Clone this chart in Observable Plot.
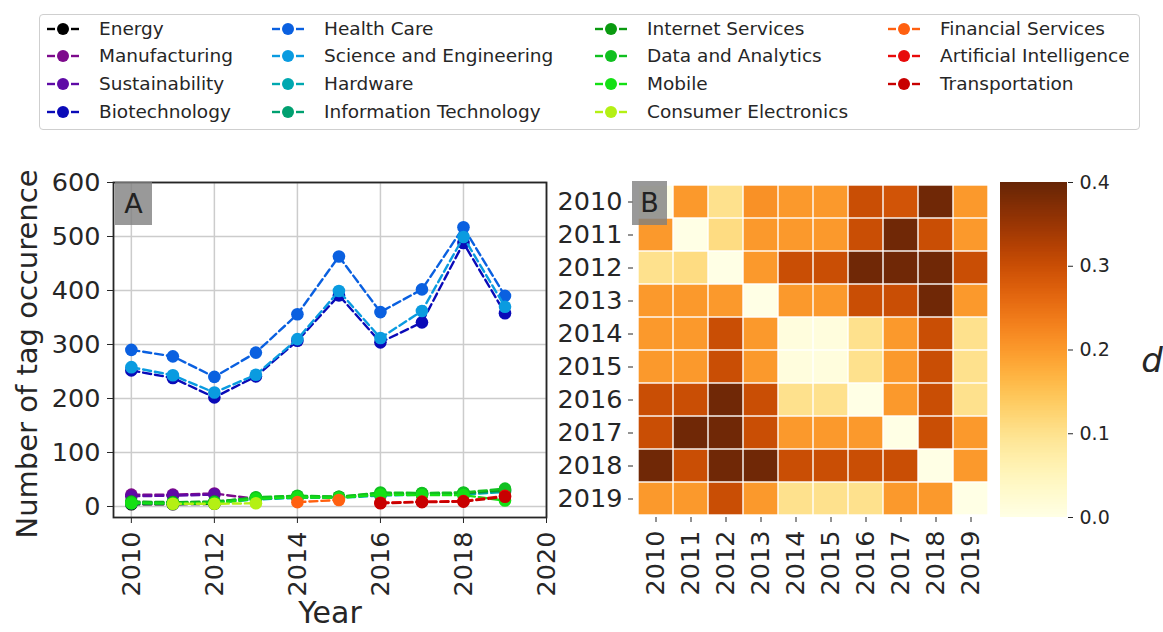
<!DOCTYPE html>
<html>
<head>
<meta charset="utf-8">
<script src="https://cdn.jsdelivr.net/npm/d3@7"></script>
<script src="https://cdn.jsdelivr.net/npm/@observablehq/plot@0.6"></script>
<style>
  body { margin: 0; background: #fff; font-family: "DejaVu Sans", sans-serif; color: #262626; }
  #fig { position: relative; width: 1163px; height: 632px; overflow: hidden; background: #fff; }
  .legend { position: absolute; left: 39px; top: 14px; width: 1101px; height: 116px; border: 1px solid #cfcfcf; border-radius: 4px; box-sizing: border-box; }
  .lg-item { position: absolute; font-size: 18.5px; line-height: 22px; white-space: nowrap; color: #262626; }
  .lg-item svg { position: absolute; top: 4px; }
  .panel-tag { position: absolute; background: rgba(128,128,128,0.8); color: #222; font-size: 27px; text-align: center; }
</style>
</head>
<body>
<div id="fig"></div>
<script>
// ---------------- Data ----------------
const years = [2010, 2011, 2012, 2013, 2014, 2015, 2016, 2017, 2018, 2019];

const tagNames = [
  "Energy", "Manufacturing", "Sustainability", "Biotechnology",
  "Health Care", "Science and Engineering", "Hardware", "Information Technology",
  "Internet Services", "Data and Analytics", "Mobile", "Consumer Electronics",
  "Financial Services", "Artificial Intelligence", "Transportation"
];
const tagColors = [
  "#000000", "#7d0a8c", "#5e0aa6", "#0a0ab8",
  "#0a60e0", "#0a9be0", "#00a8b0", "#00a070",
  "#0a9a10", "#10c020", "#14e014", "#b4f014",
  "#ff6010", "#e80a0a", "#c80000"
];

// occurrences per year (null = tag not counted that year)
const energy              = [4, 4, 5, null, null, null, null, null, null, null];
const manufacturing       = [22, 22, 24, 14, null, null, null, null, null, null];
const sustainability      = [19, 20, 22, null, null, null, null, null, null, null];
const biotechnology       = [252, 238, 202, 241, 307, 391, 304, 341, 488, 358];
const healthCare          = [290, 278, 240, 285, 356, 463, 360, 402, 517, 390];
const scienceEngineering  = [258, 243, 211, 244, 310, 399, 312, 362, 499, 370];
const hardware            = [6, 6, 7, 13, 16, 16, 20, 22, 22, 27];
const informationTech     = [7, 7, 8, 14, 17, 17, 22, 23, 24, 29];
const internetServices    = [9, 8, 9, 16, 19, 18, 24, 24, 25, 31];
const dataAnalytics       = [8, 7, 8, 17, 20, 18, 26, 25, 26, 33];
const mobile              = [6, 5, 6, 14, 17, 16, 22, 21, 21, 11];
const consumerElectronics = [null, 5, 5, 6, null, null, null, null, null, null];
const financialServices   = [null, null, null, null, 8, 12, null, null, null, null];
const artificialIntel     = [null, null, null, null, null, null, 7, 9, 10, 20];
const transportation      = [null, null, null, null, null, null, 6, 8, 9, 18];

const seriesValues = [
  energy, manufacturing, sustainability, biotechnology,
  healthCare, scienceEngineering, hardware, informationTech,
  internetServices, dataAnalytics, mobile, consumerElectronics,
  financialServices, artificialIntel, transportation
];

const yTicksA = [0, 100, 200, 300, 400, 500, 600];
const xTicksA = [2010, 2012, 2014, 2016, 2018, 2020];

// pairwise distance d between years (rows x columns)
const distance = [
  [0.00, 0.20, 0.10, 0.21, 0.20, 0.20, 0.30, 0.29, 0.39, 0.20],
  [0.20, 0.00, 0.11, 0.20, 0.20, 0.20, 0.30, 0.39, 0.30, 0.20],
  [0.10, 0.11, 0.00, 0.20, 0.30, 0.30, 0.39, 0.39, 0.39, 0.30],
  [0.20, 0.20, 0.20, 0.00, 0.20, 0.20, 0.30, 0.30, 0.39, 0.20],
  [0.20, 0.20, 0.30, 0.20, 0.01, 0.01, 0.10, 0.20, 0.30, 0.10],
  [0.20, 0.20, 0.30, 0.20, 0.01, 0.01, 0.10, 0.20, 0.30, 0.10],
  [0.30, 0.30, 0.39, 0.30, 0.10, 0.10, 0.00, 0.20, 0.30, 0.10],
  [0.30, 0.39, 0.39, 0.30, 0.20, 0.20, 0.20, 0.00, 0.30, 0.20],
  [0.39, 0.30, 0.39, 0.39, 0.30, 0.30, 0.30, 0.30, 0.00, 0.20],
  [0.20, 0.20, 0.30, 0.20, 0.10, 0.10, 0.10, 0.20, 0.20, 0.00]
];
const colorTicks = [0, 0.1, 0.2, 0.3, 0.4];

// ---------------- Layout ----------------
const fig = document.getElementById("fig");
const font = "DejaVu Sans, sans-serif";

function place(el, left, top) {
  el.style.position = "absolute";
  el.style.left = left + "px";
  el.style.top = top + "px";
  fig.appendChild(el);
}

// Legend
const legend = document.createElement("div");
legend.className = "legend";
fig.appendChild(legend);
const colX = [99, 324, 647, 940];
const rowY = [29, 56, 84, 112];
tagNames.forEach((name, i) => {
  const col = Math.floor(i / 4), row = i % 4;
  const item = document.createElement("div");
  item.className = "lg-item";
  item.style.left = (colX[col] - 52) + "px";
  item.style.top = (rowY[row] - 11) + "px";
  item.style.paddingLeft = "52px";
  const c = tagColors[i];
  item.innerHTML =
    `<svg width="34" height="14" style="left:0"><line x1="0" y1="7" x2="8" y2="7" stroke="${c}" stroke-width="2.4"/>` +
    `<line x1="24" y1="7" x2="32" y2="7" stroke="${c}" stroke-width="2.4"/>` +
    `<circle cx="16" cy="7" r="6" fill="${c}"/></svg>` + name;
  fig.appendChild(item);
});

// Panel A: line chart
const marksA = [
  Plot.gridX({ticks: xTicksA, stroke: "#cccccc", strokeOpacity: 1, strokeWidth: 1.5}),
  Plot.gridY({ticks: yTicksA, stroke: "#cccccc", strokeOpacity: 1, strokeWidth: 1.5})
];
tagNames.forEach((name, i) => {
  const rows = years.map((y, j) => ({year: y, value: seriesValues[i][j], tag: name}));
  const pts = rows.filter(d => d.value != null);
  marksA.push(Plot.line(rows, {x: "year", y: "value", stroke: tagColors[i], strokeWidth: 2.4, strokeDasharray: "8,4"}));
  marksA.push(Plot.dot(pts, {x: "year", y: "value", fill: tagColors[i], r: 6.3}));
});
marksA.push(Plot.frame({stroke: "#262626", strokeWidth: 1.8}));
marksA.push(Plot.axisY({ticks: yTicksA, tickSize: 6, tickPadding: 7, label: null, stroke: "#262626"}));
marksA.push(Plot.axisX({ticks: xTicksA, tickFormat: d => String(d), tickRotate: -90, tickSize: 6, tickPadding: 8, label: null, stroke: "#262626"}));

const plotA = Plot.plot({
  width: 560, height: 502,
  marginLeft: 113, marginRight: 14, marginTop: 52, marginBottom: 115,
  x: {domain: [2009.57, 2020]},
  y: {domain: [-20.4, 600]},
  style: {fontFamily: font, fontSize: "25.5px", color: "#262626", background: "transparent", overflow: "visible"},
  marks: marksA
});
place(plotA, 0, 130);

// Panel B: heatmap
const cells = [];
years.forEach((ry, i) => years.forEach((cx, j) => cells.push({row: ry, col: cx, d: distance[i][j]})));
const colorScale = {type: "linear", scheme: "YlOrBr", domain: [0, 0.4]};

const plotB = Plot.plot({
  width: 460, height: 502,
  marginLeft: 93, marginRight: 8, marginTop: 52, marginBottom: 115,
  x: {type: "band", domain: years, padding: 0},
  y: {type: "band", domain: years, padding: 0},
  color: colorScale,
  style: {fontFamily: font, fontSize: "25.5px", color: "#262626", background: "transparent", overflow: "visible"},
  marks: [
    Plot.cell(cells, {x: "col", y: "row", fill: "d", inset: 0.7}),
    Plot.axisY({tickFormat: d => String(d), tickSize: 5, tickPadding: 6, label: null, stroke: "#262626"}),
    Plot.axisX({tickFormat: d => String(d), tickRotate: -90, tickSize: 5, tickPadding: 8, label: null, stroke: "#262626"})
  ]
});
place(plotB, 540, 130);

// Colorbar
const step = 0.002;
const ramp = d3.range(0, 0.4, step);
const plotC = Plot.plot({
  width: 173, height: 502,
  marginLeft: 10, marginRight: 96, marginTop: 52, marginBottom: 115,
  x: {domain: [0, 1], axis: null},
  y: {domain: [0, 0.4]},
  color: colorScale,
  style: {fontFamily: font, fontSize: "19px", color: "#262626", background: "transparent", overflow: "visible"},
  marks: [
    Plot.rect(ramp, {x1: 0, x2: 1, y1: d => d, y2: d => Math.min(0.4, d + step * 1.6), fill: d => d + step / 2, shapeRendering: "crispEdges"}),
    Plot.axisY({anchor: "right", ticks: colorTicks, tickFormat: ".1f", tickSize: 5, tickPadding: 7, label: null, stroke: "#262626"})
  ]
});
place(plotC, 990, 130);

// Text labels
function text(str, left, top, css) {
  const el = document.createElement("div");
  el.textContent = str;
  el.style.whiteSpace = "nowrap";
  el.style.color = "#262626";
  Object.assign(el.style, css || {});
  place(el, left, top);
  return el;
}
text("Number of tag occurence", 27, 354, {fontSize: "29px", lineHeight: "32px", transform: "translate(-50%,-50%) rotate(-90deg)"});
text("Year", 330, 613, {fontSize: "30px", lineHeight: "30px", transform: "translate(-50%,-50%)"});
text("d", 1152, 360, {fontSize: "34px", fontStyle: "italic", transform: "translate(-50%,-50%)"});

// Panel tags
const tagA = document.createElement("div");
tagA.className = "panel-tag"; tagA.textContent = "A";
Object.assign(tagA.style, {width: "37px", height: "43px", lineHeight: "43px"});
place(tagA, 115, 182);
const tagB = document.createElement("div");
tagB.className = "panel-tag"; tagB.textContent = "B";
Object.assign(tagB.style, {width: "35px", height: "44px", lineHeight: "44px"});
place(tagB, 632, 181);
</script>
</body>
</html>
